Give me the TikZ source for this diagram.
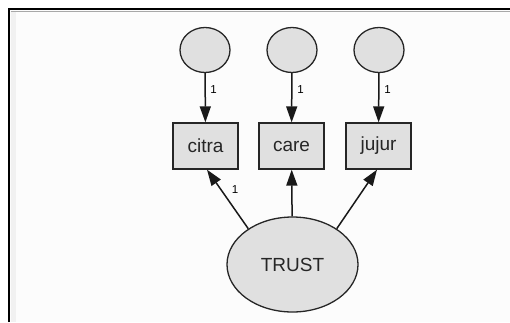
\documentclass[tikz,border=0pt]{standalone}
\usepackage{fontspec}
\setmainfont{Liberation Sans}
\usetikzlibrary{shapes.geometric,arrows.meta}
\definecolor{nodefill}{HTML}{E0E0E0}
\definecolor{panel}{HTML}{FCFCFC}
\definecolor{strip}{HTML}{F1F1F1}
\definecolor{rule}{HTML}{A8A8A8}
\begin{document}
\begin{tikzpicture}[x=1pt,y=-1pt,
  errc/.style={draw=black!85, line width=1.3pt, fill=nodefill, ellipse, minimum width=50pt, minimum height=45pt, inner sep=0pt},
  obsbox/.style={draw=black!85, line width=1.3pt, fill=nodefill, rectangle, minimum width=65pt, minimum height=46pt, inner sep=0pt, font=\fontsize{19}{21}\selectfont, text=black!85},
  latent/.style={draw=black!85, line width=1.3pt, fill=nodefill, ellipse, minimum width=131pt, minimum height=95pt, inner sep=0pt, font=\fontsize{19}{21}\selectfont, text=black!85},
  path/.style={draw=black!90, line width=1.5pt, -{Triangle[length=16pt,width=11pt]}},
  wlab/.style={font=\fontsize{11.5}{12}\selectfont, text=black, inner sep=0pt}
]
\useasboundingbox (0,0) rectangle (510,322);
\fill[white] (0,0) rectangle (510,322);
\fill[panel] (10,10) rectangle (510,322);
\fill[strip] (10.5,12) rectangle (16,322);
\draw[rule, line width=1.5pt] (10.5,11.6) -- (510,11.6);
\draw[black, line width=2.2pt] (9.3,322) -- (9.3,9) -- (510,9);

\node[errc] (e1) at (205,50) {};
\node[errc] (e2) at (292,50) {};
\node[errc] (e3) at (379,50) {};

\node[obsbox] (citra) at (205.5,146) {citra};
\node[obsbox] (care) at (291.5,146) {care};
\node[obsbox] (jujur) at (378.5,146) {jujur};

\node[latent] (trust) at (292.5,264.5) {TRUST};

\draw[path] (e1) -- (citra);
\draw[path] (e2) -- (care);
\draw[path] (e3) -- (jujur);
\draw[path] (trust.141) -- ([xshift=1.5pt]citra.south);
\draw[path] (trust) -- (care);
\draw[path] (trust.39) -- ([xshift=-1.5pt]jujur.south);

\node[wlab] (l1) at (213.5,90) {1};
\node[wlab] (l2) at (300.5,90) {1};
\node[wlab] (l3) at (387.5,90) {1};
\node[wlab] (l4) at (235,189.5) {1};
\end{tikzpicture}
\end{document}
